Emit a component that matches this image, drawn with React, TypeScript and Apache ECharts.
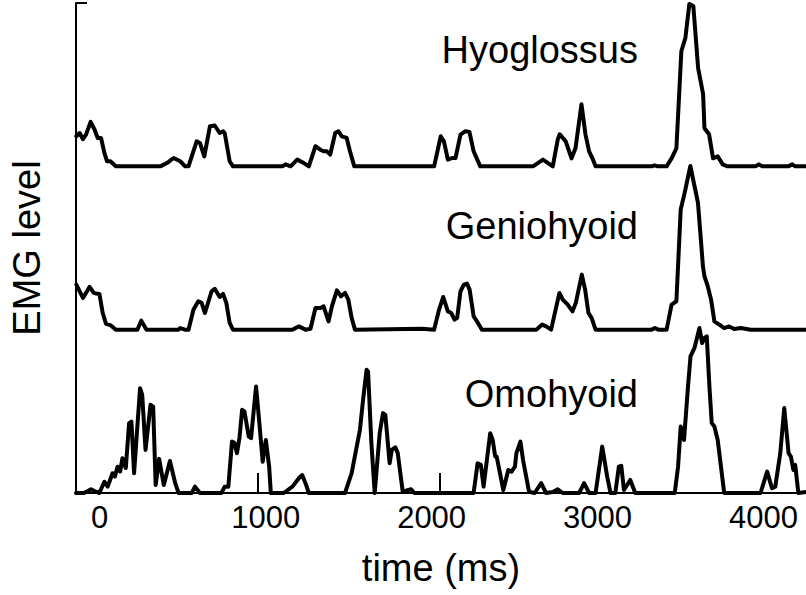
import React, { useEffect, useRef } from "react";
import * as echarts from "echarts";

// time (ms) / EMG level pairs (level 1 ≈ tallest burst)
const hyoglossus: number[][] = [
  [-141, 0.184], [-121, 0.204], [-101, 0.166], [-82, 0.196], [-55, 0.272], [-32, 0.227], [-12, 0.174], [8, 0.174],
  [28, 0.082], [44, 0.031], [64, 0.031], [97, 0], [365, 0], [405, 0.02], [445, 0.051], [485, 0.031], [515, 0],
  [535, 0], [584, 0.153], [604, 0.143], [630, 0.061], [664, 0.245], [693, 0.25], [723, 0.204], [743, 0.215],
  [753, 0.204], [783, 0.031], [803, 0], [1101, 0], [1121, 0.012], [1150, 0], [1190, 0.041], [1230, 0.02],
  [1260, 0], [1300, 0.123], [1329, 0.102], [1349, 0.092], [1369, 0.092], [1389, 0.072], [1419, 0.204],
  [1438, 0.215], [1459, 0.184], [1488, 0.174], [1508, 0.092], [1534, 0], [2015, 0], [2055, 0.184], [2074, 0.153],
  [2098, 0.041], [2124, 0.051], [2144, 0.051], [2174, 0.194], [2204, 0.215], [2228, 0.211], [2253, 0.092],
  [2293, 0], [2611, 0], [2671, 0.041], [2730, 0], [2760, 0.164], [2772, 0.196], [2808, 0.153], [2843, 0.049],
  [2867, 0.11], [2903, 0.38], [2927, 0.196], [2949, 0.092], [2969, 0.049], [2988, 0], [3326, 0], [3344, 0.006],
  [3362, 0], [3416, 0], [3446, 0.049], [3475, 0.11], [3505, 0.706], [3529, 0.785], [3553, 0.994], [3577, 0.982],
  [3606, 0.601], [3636, 0.442], [3644, 0.233], [3672, 0.196], [3696, 0.049], [3724, 0.061], [3754, 0.012],
  [3783, 0], [3952, 0], [3972, 0.012], [3992, 0], [4149, 0], [4173, 0.012], [4191, 0], [4256, 0],
];

const geniohyoid: number[][] = [
  [-141, 0.276], [-101, 0.194], [-61, 0.262], [-36, 0.225], [-22, 0.221], [-2, 0.219], [18, 0.102], [38, 0.035],
  [67, 0.026], [97, 0], [227, 0], [250, 0.055], [282, 0], [475, 0], [485, 0.01], [513, 0], [535, 0], [565, 0.123],
  [594, 0.174], [614, 0.164], [634, 0.102], [674, 0.235], [693, 0.25], [723, 0.2], [743, 0.219], [763, 0.164],
  [783, 0.041], [803, 0], [1161, 0], [1200, 0.02], [1240, 0], [1270, 0.006], [1300, 0.133], [1329, 0.133],
  [1349, 0.143], [1379, 0.051], [1399, 0.143], [1429, 0.241], [1454, 0.204], [1478, 0.225], [1498, 0.184],
  [1518, 0.072], [1538, 0], [1943, 0.006], [2015, 0], [2045, 0.123], [2070, 0.2], [2098, 0.112], [2118, 0.102],
  [2138, 0.061], [2154, 0.072], [2174, 0.235], [2194, 0.276], [2213, 0.282], [2229, 0.245], [2253, 0.082],
  [2273, 0.051], [2303, 0], [2631, 0], [2666, 0.031], [2690, 0.02], [2720, 0], [2770, 0.225], [2790, 0.184],
  [2820, 0.153], [2849, 0.112], [2869, 0.164], [2905, 0.337], [2925, 0.245], [2945, 0.102], [2964, 0.072],
  [2988, 0], [3326, 0], [3346, 0.01], [3366, 0], [3416, 0], [3446, 0.153], [3475, 0.174], [3501, 0.736],
  [3525, 0.839], [3559, 1.002], [3605, 0.777], [3635, 0.388], [3644, 0.327], [3664, 0.266], [3684, 0.184],
  [3704, 0.051], [3734, 0.031], [3763, 0.01], [3793, 0.02], [3823, 0.004], [3863, 0.01], [3922, 0], [4256, 0],
];

const omohyoid: number[][] = [
  [-143, 0], [-95, 0], [-52, 0.023], [-24, 0.008], [-2, 0], [28, 0.069], [48, 0.039], [77, 0.121], [91, 0.1],
  [107, 0.161], [123, 0.131], [137, 0.213], [157, 0.153], [177, 0.428], [191, 0.437], [207, 0.121], [243, 0.642],
  [256, 0.601], [276, 0.264], [306, 0.54], [322, 0.529], [337, 0.049], [358, 0.209], [386, 0.049], [423, 0.196],
  [455, 0.06], [475, 0], [554, 0], [574, 0.039], [604, 0], [733, 0], [753, 0.039], [775, 0.039], [797, 0.315],
  [811, 0.307], [827, 0.244], [842, 0.337], [858, 0.509], [872, 0.499], [898, 0.345], [912, 0.336], [942, 0.652],
  [962, 0.428], [982, 0.192], [1001, 0.325], [1021, 0.161], [1031, 0], [1109, 0], [1161, 0.039], [1200, 0.09],
  [1220, 0.11], [1240, 0.06], [1260, 0], [1478, 0], [1518, 0.121], [1568, 0.387], [1587, 0.571], [1608, 0.755],
  [1617, 0.744], [1637, 0.305], [1657, 0], [1687, 0.366], [1707, 0.489], [1721, 0.479], [1747, 0.182],
  [1760, 0.264], [1781, 0.28], [1796, 0.244], [1826, 0.008], [1876, 0.023], [1896, 0], [2253, 0], [2277, 0.182],
  [2297, 0.172], [2313, 0.039], [2333, 0.202], [2353, 0.366], [2368, 0.325], [2383, 0.223], [2392, 0.223],
  [2412, 0.121], [2432, 0.018], [2462, 0.141], [2482, 0.131], [2502, 0.161], [2511, 0.244], [2535, 0.315],
  [2551, 0.202], [2587, 0.008], [2621, 0], [2660, 0.06], [2690, 0], [2730, 0.006], [2760, 0.023], [2790, 0],
  [2889, 0], [2919, 0.06], [2949, 0], [2988, 0], [3028, 0.284], [3058, 0.1], [3078, 0], [3107, 0], [3128, 0.161],
  [3143, 0.166], [3159, 0.018], [3197, 0.08], [3227, 0], [3465, 0], [3485, 0.161], [3501, 0.407], [3521, 0.325],
  [3545, 0.652], [3560, 0.836], [3584, 0.888], [3614, 1.01], [3630, 0.918], [3644, 0.949], [3658, 0.959],
  [3674, 0.652], [3688, 0.428], [3704, 0.407], [3724, 0.325], [3763, 0], [3982, 0], [4022, 0.131], [4051, 0.029],
  [4071, 0.039], [4101, 0.244], [4125, 0.52], [4151, 0.244], [4165, 0.223], [4180, 0.141], [4191, 0.172],
  [4210, 0], [4256, 0.006],
];

const traceNames = ["Hyoglossus", "Geniohyoid", "Omohyoid"];
const traceData = [hyoglossus, geniohyoid, omohyoid];
const traceOffsets = [2, 1, 0];
const xTickLabels = [0, 1000, 2000, 3000, 4000];
const xTickMarks = [954, 2051];
const timeRange = [-143, 4256];
const levelRange = [0, 3];

const FONT = "'Liberation Sans', Arial, Helvetica, sans-serif";

export default function App() {
  const ref = useRef<HTMLDivElement>(null);

  useEffect(() => {
    document.body.style.margin = "0";
    if (!ref.current) return;
    const chart = echarts.init(ref.current, undefined, { renderer: "svg" });

    const labelY = [49.5, 226, 393.5];

    chart.setOption({
      animation: false,
      backgroundColor: "#ffffff",
      grid: { left: 68, right: 0, top: 3, bottom: 102, containLabel: false },
      xAxis: {
        type: "value",
        min: timeRange[0],
        max: timeRange[1],
        name: "time (ms)",
        nameLocation: "middle",
        nameGap: 56,
        nameTextStyle: { fontSize: 38, color: "#000", fontFamily: FONT },
        axisLine: { show: true, onZero: false, lineStyle: { color: "#000", width: 2 } },
        axisTick: {
          show: true,
          inside: true,
          length: 20,
          customValues: xTickMarks,
          lineStyle: { color: "#000", width: 2 },
        },
        axisLabel: {
          customValues: xTickLabels,
          formatter: (v: number) => String(v),
          fontSize: 31,
          color: "#000",
          fontFamily: FONT,
          margin: 9,
        },
        splitLine: { show: false },
      },
      yAxis: {
        type: "value",
        min: levelRange[0],
        max: levelRange[1],
        interval: 3,
        name: "EMG level",
        nameLocation: "middle",
        nameGap: 30,
        nameTextStyle: { fontSize: 38, color: "#000", fontFamily: FONT },
        axisLine: { show: true, onZero: false, lineStyle: { color: "#000", width: 2 } },
        axisTick: { show: true, inside: true, length: 11, lineStyle: { color: "#000", width: 2 } },
        axisLabel: { show: false },
        splitLine: { show: false },
      },
      series: traceData.map((d, i) => ({
        name: traceNames[i],
        type: "line",
        data: d.map((p) => [p[0], p[1] + traceOffsets[i]]),
        showSymbol: false,
        symbol: "none",
        lineStyle: { color: "#000", width: 4, join: "round", cap: "round" },
        z: 3,
      })),
      graphic: traceNames.map((n, i) => ({
        type: "text",
        x: 638,
        y: labelY[i],
        style: {
          text: n,
          fill: "#000",
          font: `38px ${FONT}`,
          fontSize: 38,
          fontFamily: FONT,
          align: "right",
          textAlign: "right",
          verticalAlign: "middle",
          textVerticalAlign: "middle",
        },
      })),
    });

    return () => chart.dispose();
  }, []);

  return <div ref={ref} style={{ width: 806, height: 595 }} />;
}
